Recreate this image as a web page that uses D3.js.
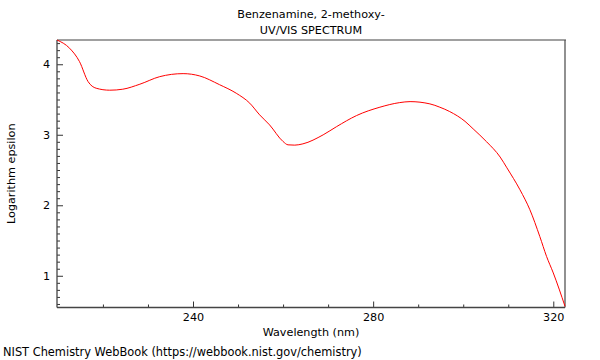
<!DOCTYPE html>
<html><head><meta charset="utf-8">
<script src="https://cdn.jsdelivr.net/npm/d3@7"></script>
<style>body{margin:0;background:#fff}svg{display:block}text{font-family:"DejaVu Sans",sans-serif;font-size:11.2px;fill:#000}</style>
</head><body>
<svg id="c" width="600" height="360"></svg>
<script>
const wavelength = [209.8,212.6,214.8,216.7,218.5,221.5,224.4,228.2,232.6,237.8,241.5,245.9,249.6,252.6,254.8,257.0,260.0,261.1,262.6,264.4,268.9,271.9,276.3,281.5,285.9,288.2,292.6,294.8,297.0,300.4,302.2,305.2,308.2,309.7,312.6,314.8,317.0,318.5,320.0,322.6];
const logEps = [4.344,4.227,4.037,3.754,3.660,3.632,3.646,3.717,3.824,3.867,3.834,3.710,3.589,3.448,3.282,3.140,2.904,2.857,2.853,2.871,2.999,3.116,3.272,3.391,3.456,3.470,3.438,3.391,3.329,3.190,3.084,2.900,2.684,2.531,2.220,1.937,1.558,1.275,1.040,0.567];
const xMajor = [240,280,320];
const xMinor = [220,230,250,260,270,290,300,310];
const yMajor = [1,2,3,4];
const titleLines = ["Benzenamine, 2-methoxy-","UV/VIS SPECTRUM"];

const L=57,R=565,T=40,B=307.5;
const FS="11.2px";
const svg=d3.select("#c");
const x=d3.scaleLinear().domain([209.8,322.6]).range([L,R]);
const y=d3.scaleLinear().domain([0.55,4.344]).range([B,T]);

// y minor ticks
const yMinor=d3.range(6,44).map(d=>d/10).filter(v=>!yMajor.includes(v)&&v>=0.55&&v<=4.344);
svg.append("g").attr("transform",`translate(${L},0)`)
  .call(d3.axisRight(y).tickValues(yMinor).tickSize(3).tickFormat(""))
  .call(g=>g.select(".domain").remove()).selectAll("line").attr("stroke","#333");
svg.append("g").attr("transform",`translate(${L},0)`)
  .call(d3.axisRight(y).tickValues(yMajor).tickSize(6).tickFormat(""))
  .call(g=>g.select(".domain").remove()).selectAll("line").attr("stroke","#333");
svg.append("g").attr("transform",`translate(${L},0)`)
  .call(d3.axisLeft(y).tickValues(yMajor).tickSize(0).tickPadding(7).tickFormat(d3.format("d")))
  .call(g=>g.select(".domain").remove())
  .selectAll("text").style("font-family","DejaVu Sans").style("font-size",FS).attr("fill","#000");

// x ticks
svg.append("g").attr("transform",`translate(0,${B})`)
  .call(d3.axisTop(x).tickValues(xMinor).tickSize(3).tickFormat(""))
  .call(g=>g.select(".domain").remove()).selectAll("line").attr("stroke","#333");
svg.append("g").attr("transform",`translate(0,${B})`)
  .call(d3.axisTop(x).tickValues(xMajor).tickSize(6).tickFormat(""))
  .call(g=>g.select(".domain").remove()).selectAll("line").attr("stroke","#333");
svg.append("g").attr("transform",`translate(0,${B})`)
  .call(d3.axisBottom(x).tickValues(xMajor).tickSize(0).tickPadding(6).tickFormat(d3.format("d")))
  .call(g=>g.select(".domain").remove())
  .selectAll("text").style("font-family","DejaVu Sans").style("font-size",FS).attr("fill","#000");

// frame
svg.append("line").attr("x1",L).attr("x2",R+1).attr("y1",T).attr("y2",T).attr("stroke","#a0a0a0").attr("stroke-width",2);
svg.append("line").attr("x1",R).attr("x2",R).attr("y1",T).attr("y2",B).attr("stroke","#555").attr("stroke-width",1.3);
svg.append("line").attr("x1",L).attr("x2",L).attr("y1",T).attr("y2",B).attr("stroke","#444").attr("stroke-width",1.3);
svg.append("line").attr("x1",L).attr("x2",R).attr("y1",B).attr("y2",B).attr("stroke","#444").attr("stroke-width",1.3);

// curve
const pts=wavelength.map((w,i)=>[w,logEps[i]]);
svg.append("path").datum(pts)
  .attr("d",d3.line().x(d=>x(d[0])).y(d=>y(d[1])).curve(d3.curveMonotoneX))
  .attr("fill","none").attr("stroke","#ff0000").attr("stroke-width",1);

// texts
const cx=(L+R)/2;
svg.append("text").attr("x",cx).attr("y",18).attr("text-anchor","middle").text(titleLines[0]);
svg.append("text").attr("x",cx).attr("y",34).attr("text-anchor","middle").text(titleLines[1]);
svg.append("text").attr("x",cx).attr("y",336).attr("text-anchor","middle").text("Wavelength (nm)");
svg.append("text").attr("transform",`translate(15,${(T+B)/2}) rotate(-90)`).attr("text-anchor","middle").text("Logarithm epsilon");
svg.append("text").attr("x",3).attr("y",356).style("font-size","11.4px").text("NIST Chemistry WebBook (https://webbook.nist.gov/chemistry)");
</script>
</body></html>
